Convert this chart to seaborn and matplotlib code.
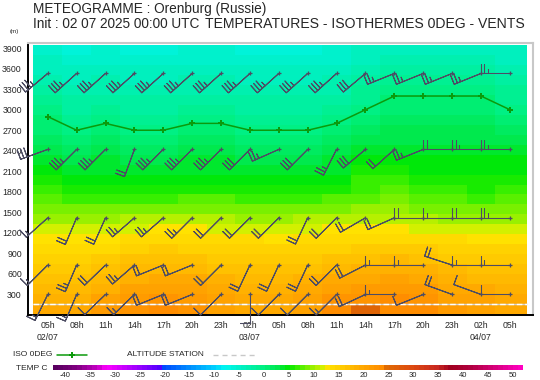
import numpy as np
import pandas as pd
import seaborn as sns
import matplotlib
matplotlib.use("Agg")
import matplotlib.pyplot as plt
from matplotlib.colors import LinearSegmentedColormap, Normalize
from matplotlib.cm import ScalarMappable
from matplotlib.lines import Line2D

# echeances : heures depuis le 02/07 00 UTC
hours = [5, 8, 11, 14, 17, 20, 23, 26, 29, 32, 35, 38, 41, 44, 47, 50, 53]
hour_labels = ['05h\n02/07', '08h', '11h', '14h', '17h', '20h', '23h', '02h\n03/07',
               '05h', '08h', '11h', '14h', '17h', '20h', '23h', '02h\n04/07', '05h']

# altitude de l'isotherme 0 (m)
iso0_alt = [2900, 2700, 2800, 2700, 2700, 2800, 2800, 2700, 2700, 2700, 2800,
            3000, 3200, 3200, 3200, 3200, 3000]
station_alt = 156

# couches du modele (bords, m)
layer_edges = [0] + [155 + 146 * k for k in range(27)]

# temperatures (C), couche du haut en premier
temp_grid = [
    [-5.2, -6.0, -5.6, -6.0, -6.0, -5.6, -5.6, -6.0, -6.0, -6.0, -5.6, -4.6, -3.8, -3.8, -3.8, -3.8, -4.6],
    [-4.5, -5.3, -4.9, -5.3, -5.3, -4.9, -4.9, -5.3, -5.3, -5.3, -4.9, -3.9, -3.1, -3.1, -3.1, -3.1, -3.9],
    [-3.8, -4.6, -4.2, -4.6, -4.6, -4.2, -4.2, -4.6, -4.6, -4.6, -4.2, -3.2, -2.4, -2.4, -2.4, -2.4, -3.2],
    [-3.1, -3.9, -3.5, -3.9, -3.9, -3.5, -3.5, -3.9, -3.9, -3.9, -3.5, -2.5, -1.5, -1.5, -1.5, -1.5, -2.5],
    [-2.3, -3.2, -2.8, -3.2, -3.2, -2.8, -2.8, -3.2, -3.2, -3.2, -2.8, -1.7, -0.6, -0.6, -0.6, -0.6, -1.7],
    [-1.5, -2.5, -2.1, -2.5, -2.5, -2.1, -2.1, -2.5, -2.5, -2.5, -2.1, -0.9, 0.3, 0.3, 0.3, 0.3, -0.9],
    [-0.6, -1.8, -1.3, -1.8, -1.8, -1.3, -1.3, -1.8, -1.8, -1.8, -1.3, 0.0, 1.0, 1.0, 1.0, 1.0, 0.0],
    [0.3, -1.0, -0.4, -1.0, -1.0, -0.4, -0.4, -1.0, -1.0, -1.0, -0.4, 0.9, 1.7, 1.7, 1.7, 1.7, 0.9],
    [1.2, -0.1, 0.5, -0.1, -0.1, 0.5, 0.5, -0.1, -0.1, -0.1, 0.5, 1.8, 2.4, 2.4, 2.4, 2.4, 1.8],
    [2.1, 0.9, 1.5, 0.9, 0.9, 1.5, 1.5, 0.9, 0.9, 0.9, 1.5, 2.7, 3.1, 3.1, 3.1, 3.1, 2.7],
    [3.0, 1.8, 2.4, 1.8, 1.8, 2.4, 2.4, 1.8, 1.8, 1.8, 2.4, 3.6, 3.8, 3.8, 3.8, 3.8, 3.6],
    [3.9, 2.7, 3.3, 2.7, 2.7, 3.3, 3.3, 2.7, 2.7, 2.7, 3.3, 4.5, 4.6, 4.4, 4.4, 4.4, 4.5],
    [4.8, 3.6, 4.2, 3.6, 3.6, 4.2, 4.2, 3.6, 3.6, 3.6, 4.2, 5.4, 5.6, 5.0, 5.0, 5.0, 5.2],
    [5.7, 4.5, 5.1, 4.5, 4.5, 5.1, 5.1, 4.5, 4.5, 4.5, 5.1, 6.3, 6.4, 5.6, 5.6, 5.6, 5.8],
    [6.6, 5.6, 6.0, 5.5, 5.5, 6.0, 6.0, 5.5, 5.5, 5.5, 6.0, 7.2, 7.4, 6.5, 6.3, 6.2, 6.6],
    [7.5, 7.0, 7.2, 7.0, 7.0, 7.3, 7.3, 7.0, 7.0, 7.0, 7.4, 8.2, 8.4, 7.6, 7.3, 7.2, 7.4],
    [8.7, 8.5, 8.7, 8.6, 8.6, 8.8, 8.8, 8.5, 8.5, 8.6, 9.0, 9.6, 9.6, 9.0, 8.6, 8.4, 8.5],
    [10.0, 10.0, 10.2, 10.3, 10.4, 10.5, 10.4, 10.2, 10.2, 10.4, 10.8, 11.2, 11.0, 10.6, 10.2, 10.0, 10.0],
    [11.5, 11.3, 11.5, 12.2, 12.3, 12.3, 12.2, 12.1, 12.1, 12.2, 12.3, 12.6, 12.4, 12.2, 12.1, 11.8, 11.6],
    [12.5, 12.5, 12.8, 13.5, 13.8, 13.7, 13.5, 13.3, 13.2, 13.4, 13.7, 14.0, 14.0, 13.8, 13.5, 13.2, 13.0],
    [13.5, 13.5, 14.0, 14.8, 15.2, 15.0, 14.6, 14.4, 14.3, 14.6, 15.0, 15.5, 15.6, 15.2, 14.8, 14.5, 14.2],
    [14.5, 14.7, 15.3, 16.2, 16.6, 16.4, 15.8, 15.5, 15.4, 15.8, 16.5, 17.0, 17.2, 16.7, 16.0, 15.7, 15.4],
    [15.5, 15.8, 16.5, 17.6, 18.0, 17.8, 17.0, 16.6, 16.5, 17.0, 18.0, 18.5, 18.8, 18.2, 17.3, 16.9, 16.6],
    [16.5, 17.0, 17.8, 19.0, 19.5, 19.2, 18.2, 17.6, 17.5, 18.2, 19.5, 20.0, 20.4, 19.7, 18.6, 18.0, 17.8],
    [17.5, 18.0, 19.0, 20.5, 21.0, 20.6, 19.4, 18.6, 18.5, 19.4, 21.0, 21.8, 22.0, 21.2, 19.9, 19.2, 19.0],
    [18.5, 19.0, 20.3, 22.0, 22.5, 22.0, 20.5, 19.5, 19.2, 20.5, 22.3, 23.0, 23.5, 22.7, 21.0, 20.2, 19.8],
    [19.5, 20.0, 21.5, 23.0, 23.5, 23.0, 21.0, 20.0, 19.5, 21.0, 23.3, 25.5, 23.8, 23.5, 21.5, 20.5, 20.0],
]

# vents : altitude des niveaux, direction (deg) et force (kt)
wind_levels = [300, 730, 1420, 2420, 3530]
wind_dir = [
    [206, 203, 226, 226, 248, 248, 225, 180, 225, 225, 225, 245, 270, 248, 290, 290, 270],
    [225, 203, 226, 229, 248, 248, 225, 205, 205, 205, 225, 243, 270, 270, 288, 270, 270],
    [228, 203, 204, 229, 229, 225, 225, 225, 225, 205, 225, 240, 246, 270, 270, 270, 270],
    [250, 225, 225, 200, 225, 225, 225, 225, 246, 225, 207, 230, 228, 248, 270, 270, 270],
    [230, 228, 228, 228, 228, 228, 228, 228, 228, 228, 228, 230, 248, 248, 248, 248, 270],
]
wind_kt = [
    [15, 15, 10, 15, 20, 20, 10, 10, 10, 10, 15, 20, 15, 10, 20, 10, 10],
    [15, 25, 20, 25, 20, 20, 20, 20, 20, 20, 20, 20, 15, 15, 20, 15, 15],
    [15, 20, 20, 25, 25, 25, 20, 20, 20, 20, 20, 20, 20, 20, 15, 20, 25],
    [30, 35, 35, 20, 35, 35, 35, 30, 25, 30, 25, 30, 20, 25, 20, 25, 25],
    [35, 35, 35, 35, 35, 35, 35, 35, 35, 35, 35, 30, 25, 25, 25, 25, 25],
]

cbar_ticks = list(range(-40, 51, 5))

# palette des temperatures
anchors = [(-42.5, '#5a0060'), (-38, '#800080'), (-34, '#c000c0'), (-32, '#ff00ff'),
           (-29, '#d000ff'), (-25, '#9000ff'), (-21.05, '#5000ff'), (-21, '#0040ff'),
           (-15, '#0090ff'), (-10, '#00d0ff'), (-8, '#00f8f0'), (-5, '#00f0c8'),
           (0, '#00f080'), (3, '#00e848'), (5, '#00e800'), (7, '#40f000'),
           (10, '#a0f000'), (11.95, '#d8f000'), (12, '#ffe800'), (15, '#ffd000'),
           (20, '#ffa800'), (23.95, '#ff8c00'), (24, '#e07000'), (30, '#dd4a10'),
           (35, '#c82820'), (38, '#a00020'), (42, '#b00040'), (46, '#d00070'),
           (52, '#ff00c0')]
vmin, vmax = -42.5, 52
cmap = LinearSegmentedColormap.from_list(
    'meteo', [((v - vmin) / (vmax - vmin), c) for v, c in anchors], N=95)
norm = Normalize(vmin, vmax)

sns.set_style('white')
plt.rcParams['font.family'] = ['Liberation Sans', 'DejaVu Sans']
plt.rcParams['axes.unicode_minus'] = False

fig = plt.figure(figsize=(5.4, 3.8), dpi=100)
ax = fig.add_axes([28 / 540, 1 - 315 / 380, 505 / 540, 272 / 380])

# champ de temperature
col_edges = [h - 1.5 for h in hours] + [hours[-1] + 1.75]
temps = np.array(temp_grid)[::-1]
ax.pcolormesh(col_edges, layer_edges, temps, cmap=cmap, norm=norm,
              shading='flat', antialiased=False, edgecolors='none', zorder=1)

# altitude station
ax.hlines(station_alt, col_edges[0], col_edges[-1], color='#d0d0d0', lw=1, zorder=2)
ax.hlines(station_alt, col_edges[0], col_edges[-1], color='white', lw=1,
          linestyles=(0, (4, 2)), zorder=2)

# isotherme 0
df_iso = pd.DataFrame({'h': hours, 'alt': iso0_alt})
sns.lineplot(data=df_iso, x='h', y='alt', ax=ax, color='#0c9a0c', lw=1.1,
             marker='P', markersize=5, markeredgewidth=0, zorder=3)

# barbules de vent
barb_col = '#4d4d63'
for alt, dirs, spd in zip(wind_levels, wind_dir, wind_kt):
    rad = np.deg2rad(dirs)
    s = np.array(spd, dtype=float)
    u = -s * np.sin(rad)
    v = -s * np.cos(rad)
    ax.barbs(hours, [alt] * len(hours), u, v, length=6.45,
             sizes=dict(spacing=0.12, height=0.33, width=0.0),
             barbcolor=barb_col, flagcolor=barb_col, linewidth=0.75,
             clip_on=False, zorder=4)
    ax.plot(hours, [alt] * len(hours), '+', color=barb_col, ms=3.5, mew=0.9,
            clip_on=False, zorder=5)

ax.set_xlim(2.95, 55.4)
ax.set_ylim(0, 3975)
ax.set_xticks(hours)
ax.set_xticklabels(hour_labels, fontsize=6.3, linespacing=1.35)
ax.set_yticks(range(300, 3901, 300))
ax.set_yticklabels([str(t) for t in range(300, 3901, 300)], fontsize=6.3)
ax.tick_params(axis='both', length=3, width=0.8, color='black', pad=1.5)
ax.set_xlabel('')
ax.set_ylabel('')
for side in ['left', 'bottom']:
    ax.spines[side].set_color('black')
    ax.spines[side].set_linewidth(1.4)
for side in ['top', 'right']:
    ax.spines[side].set_color('#c8c8c8')
    ax.spines[side].set_linewidth(1.5)

# titres
fig.text(33 / 540, 1 - 9.5 / 380, 'METEOGRAMME : Orenburg (Russie)', fontsize=9.8, va='center')
fig.text(33 / 540, 1 - 24.5 / 380, 'Init : 02 07 2025 00:00 UTC', fontsize=9.8, va='center')
fig.text(205 / 540, 1 - 24.5 / 380, 'TEMPERATURES - ISOTHERMES 0DEG - VENTS',
         fontsize=10.1, va='center')
fig.text(14 / 540, 1 - 32 / 380, '(m)', fontsize=4.5, ha='center', va='center')

# legende
ly = 1 - 355 / 380
fig.text(12.7 / 540, ly, 'ISO 0DEG', fontsize=6, va='center')
fig.add_artist(Line2D([57 / 540, 87 / 540], [ly, ly], color='#0c9a0c', lw=1.1))
fig.add_artist(Line2D([72 / 540], [ly], color='#0c9a0c', marker='P', ms=4.5, mew=0))
fig.text(127 / 540, ly, 'ALTITUDE STATION', fontsize=6, va='center')
fig.add_artist(Line2D([213 / 540, 258 / 540], [ly, ly], color='#c8c8c8', lw=1,
                      dashes=(3.6, 2.9)))

# echelle de couleur
fig.text(15.5 / 540, 1 - 369 / 380, 'TEMP C', fontsize=6, va='center')
cax = fig.add_axes([52.7 / 540, 1 - 370 / 380, 470 / 540, 5 / 380])
cb = fig.colorbar(ScalarMappable(norm=norm, cmap=cmap), cax=cax,
                  orientation='horizontal', ticks=cbar_ticks)
cb.outline.set_visible(False)
cax.tick_params(length=0, labelsize=5.5, pad=1.5)

fig.savefig('out.png', dpi=100)
